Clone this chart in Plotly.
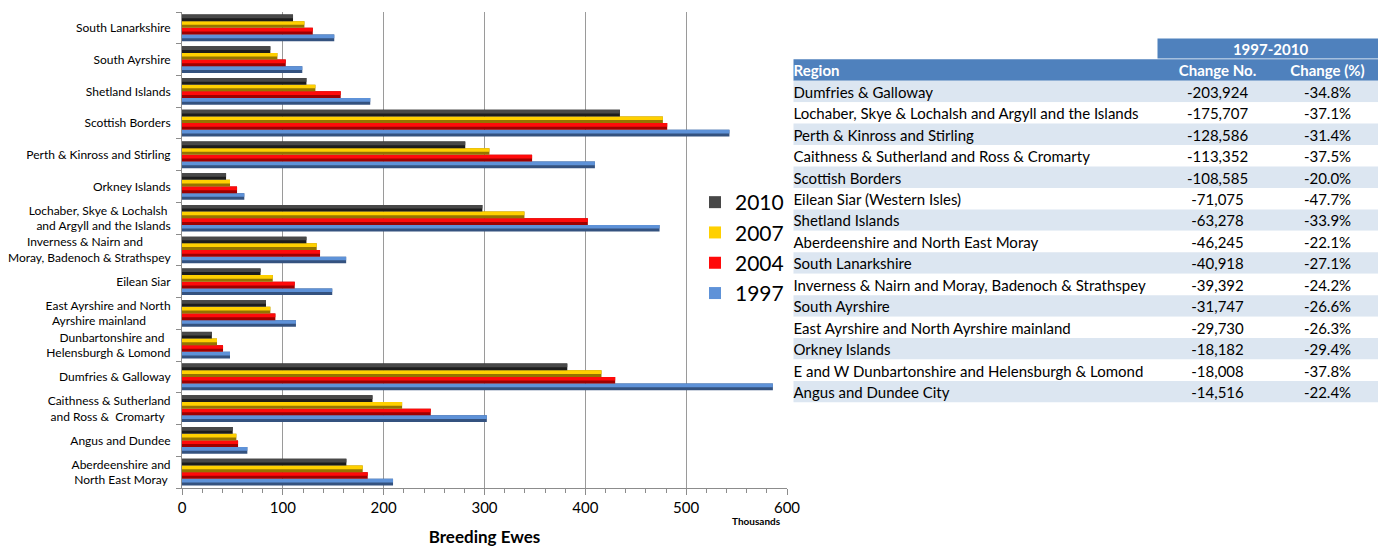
import plotly.graph_objects as go

# ---- chart data (thousands of breeding ewes), listed bottom -> top ----
regions = [
    "Aberdeenshire and<br>North East Moray",
    "Angus and Dundee",
    "Caithness & Sutherland<br>and Ross &  Cromarty",
    "Dumfries & Galloway",
    "Dunbartonshire and<br>Helensburgh & Lomond",
    "East Ayrshire and North<br>Ayrshire mainland",
    "Eilean Siar",
    "Inverness & Nairn and<br>Moray, Badenoch & Strathspey",
    "Lochaber, Skye & Lochalsh<br>and Argyll and the Islands",
    "Orkney Islands",
    "Perth & Kinross and Stirling",
    "Scottish Borders",
    "Shetland Islands",
    "South Ayrshire",
    "South Lanarkshire",
]
ewes_1997 = [209.3, 64.8, 302.3, 586.0, 47.6, 113.0, 149.0, 162.8, 473.6, 61.8, 409.5, 542.9, 186.7, 119.3, 151.0]
ewes_2004 = [184.2, 55.6, 246.7, 429.6, 40.7, 92.6, 111.8, 136.9, 402.5, 54.6, 347.2, 481.2, 157.4, 102.9, 129.7]
ewes_2007 = [179.2, 53.9, 218.3, 416.0, 34.7, 87.6, 90.0, 133.6, 339.6, 47.6, 304.9, 476.9, 132.3, 94.6, 121.4]
ewes_2010 = [163.0, 50.3, 188.9, 382.1, 29.6, 83.3, 77.9, 123.4, 297.9, 43.7, 280.9, 434.3, 123.4, 87.6, 110.1]
x_ticks = [0, 100, 200, 300, 400, 500, 600]

# ---- table data ----
tbl_period = "1997-2010"
tbl_headers = ["Region", "Change No.", "Change (%)"]
tbl_region = [
    "Dumfries & Galloway",
    "Lochaber, Skye & Lochalsh and Argyll and the Islands",
    "Perth & Kinross and Stirling",
    "Caithness & Sutherland and Ross & Cromarty",
    "Scottish Borders",
    "Eilean Siar (Western Isles)",
    "Shetland Islands",
    "Aberdeenshire and North East Moray",
    "South Lanarkshire",
    "Inverness & Nairn and Moray, Badenoch & Strathspey",
    "South Ayrshire",
    "East Ayrshire and North Ayrshire mainland",
    "Orkney Islands",
    "E and W Dunbartonshire and Helensburgh & Lomond",
    "Angus and Dundee City",
]
tbl_change_no = ["-203,924", "-175,707", "-128,586", "-113,352", "-108,585", "-71,075", "-63,278",
                 "-46,245", "-40,918", "-39,392", "-31,747", "-29,730", "-18,182", "-18,008", "-14,516"]
tbl_change_pct = ["-34.8%", "-37.1%", "-31.4%", "-37.5%", "-20.0%", "-47.7%", "-33.9%",
                  "-22.1%", "-27.1%", "-24.2%", "-26.6%", "-26.3%", "-29.4%", "-37.8%", "-22.4%"]

FONT = "Lato, 'Open Sans', sans-serif"
W, H = 1386, 548
NB = "\u00a0"


def centred(label):
    """Pad the shorter line of a two-line tick label so lines look centred."""
    parts = label.split("<br>")
    if len(parts) < 2:
        return label
    n = max(len(p) for p in parts)
    return "<br>".join(p + NB * int(round((n - len(p)) * 1.25)) for p in parts)


# (name, values, bright top colour, dark lower colour)
series = [
    ("1997", ewes_1997, "#5E92D8", "#34527F"),
    ("2004", ewes_2004, "#FF0A0A", "#9E0000"),
    ("2007", ewes_2007, "#FFD000", "#947400"),
    ("2010", ewes_2010, "#484848", "#1C1C1C"),
]

GROUP = 0.84
SLOT = GROUP / len(series)

fig = go.Figure()
for k, (name, vals, bright, dark) in enumerate(series):
    off = -GROUP / 2 + SLOT * k
    # full-height darker bar (lower bevel)
    fig.add_trace(go.Bar(
        y=regions, x=vals, name=name, orientation="h", offset=off, width=SLOT,
        marker=dict(color=dark, line=dict(width=0)),
        legendgroup=name, showlegend=False, hoverinfo="x+name",
    ))
    # brighter upper half (top bevel)
    fig.add_trace(go.Bar(
        y=regions, x=vals, name=name, orientation="h", offset=off + SLOT * 0.45, width=SLOT * 0.55,
        marker=dict(color=bright, line=dict(width=0)),
        legendgroup=name, showlegend=True, hoverinfo="x+name",
    ))

# ---- table drawn on its own hidden axes (x2/y2), one row per unit ----
TW = 587            # table width in axis units (= px)
COL2_START = 364    # start of the "1997-2010" band
COL2_MID = 424
COL3_MID = 534
TXT_DY = 0.12       # small downward nudge of text inside rows
n_rows = len(tbl_region)
row_y = list(range(2, 2 + n_rows))
fill_y = [0, 1] + row_y
fill_base = [COL2_START, 0] + [0] * n_rows
fill_len = [TW - COL2_START, TW] + [TW] * n_rows
fill_col = ["#4F81BD", "#4F81BD"] + ["#DCE6F1" if i % 2 == 0 else "#FFFFFF" for i in range(n_rows)]
fill_w = [0.94, 1.0] + [1.0] * n_rows
fig.add_trace(go.Bar(
    x=fill_len, base=fill_base, y=fill_y, orientation="h", width=fill_w,
    marker=dict(color=fill_col, line=dict(width=0)),
    xaxis="x2", yaxis="y2", showlegend=False, hoverinfo="skip",
))

TFONT = 15
ty = [v + TXT_DY for v in row_y]


def table_text(xs, ys, texts, pos, color):
    fig.add_trace(go.Scatter(
        x=xs, y=ys, text=texts, mode="text", textposition=pos,
        textfont=dict(color=color, size=TFONT, family=FONT),
        xaxis="x2", yaxis="y2", showlegend=False, hoverinfo="skip"))


table_text([477], [0 + TXT_DY], ["<b>" + tbl_period + "</b>"], "middle center", "white")
table_text([0], [1 + TXT_DY], ["<b>" + tbl_headers[0] + "</b>"], "middle right", "white")
table_text([COL2_MID], [1 + TXT_DY], ["<b>" + tbl_headers[1] + "</b>"], "middle center", "white")
table_text([COL3_MID], [1 + TXT_DY], ["<b>" + tbl_headers[2] + "</b>"], "middle center", "white")
table_text([0] * n_rows, ty, tbl_region, "middle right", "black")
table_text([COL2_MID] * n_rows, ty, tbl_change_no, "middle center", "black")
table_text([COL3_MID] * n_rows, ty, tbl_change_pct, "middle center", "black")

ROW_PX = 21.45
tbl_top = 80.7 - 2 * ROW_PX
tbl_bot = 80.7 + n_rows * ROW_PX

fig.update_layout(
    width=W, height=H,
    margin=dict(l=0, r=0, t=0, b=0),
    paper_bgcolor="white", plot_bgcolor="white",
    barmode="overlay",
    font=dict(family=FONT, color="black"),
    showlegend=True,
    legend=dict(x=695 / W, y=1 - 182 / H, xanchor="left", yanchor="top",
                traceorder="reversed", font=dict(size=21, family=FONT),
                bgcolor="rgba(0,0,0,0)", tracegroupgap=8, itemwidth=30),
    xaxis=dict(domain=[182 / W, 787 / W], range=[0, 600], tickvals=x_ticks,
               showgrid=True, gridcolor="#9A9A9A", gridwidth=1,
               showline=True, linecolor="#8C8C8C", linewidth=1,
               ticks="outside", ticklen=6, tickcolor="#8C8C8C",
               minor=dict(ticks="outside", ticklen=4, dtick=20, tickcolor="#8C8C8C", showgrid=False),
               tickfont=dict(size=15), zeroline=False, automargin=False,
               title=dict(text="<b>Breeding Ewes</b>", font=dict(size=17), standoff=16)),
    yaxis=dict(domain=[1 - 488 / H, 1 - 12 / H], categoryorder="array", categoryarray=regions,
               tickvals=regions, ticktext=[centred(r) for r in regions],
               showline=True, linecolor="#8C8C8C", linewidth=1,
               ticks="outside", ticklen=5, tickcolor="#8C8C8C", tickson="boundaries",
               ticklabelstandoff=8,
               showgrid=False, tickfont=dict(size=12), automargin=False),
    xaxis2=dict(domain=[791 / W, (791 + TW) / W], range=[-2.5, TW - 2.5], visible=False,
                anchor="y2", fixedrange=True),
    yaxis2=dict(domain=[1 - tbl_bot / H, 1 - tbl_top / H], range=[n_rows + 1.5, -0.5], visible=False,
                anchor="x2", fixedrange=True),
    annotations=[dict(text="<b>Thousands</b>", x=756 / W, y=1 - 521 / H, xref="paper", yref="paper",
                      xanchor="center", yanchor="middle",
                      showarrow=False, font=dict(size=10, family=FONT))],
)

fig.write_html("out.html", config={"displayModeBar": False},
               post_script="document.body.style.margin='0';document.body.style.overflow='hidden';")
